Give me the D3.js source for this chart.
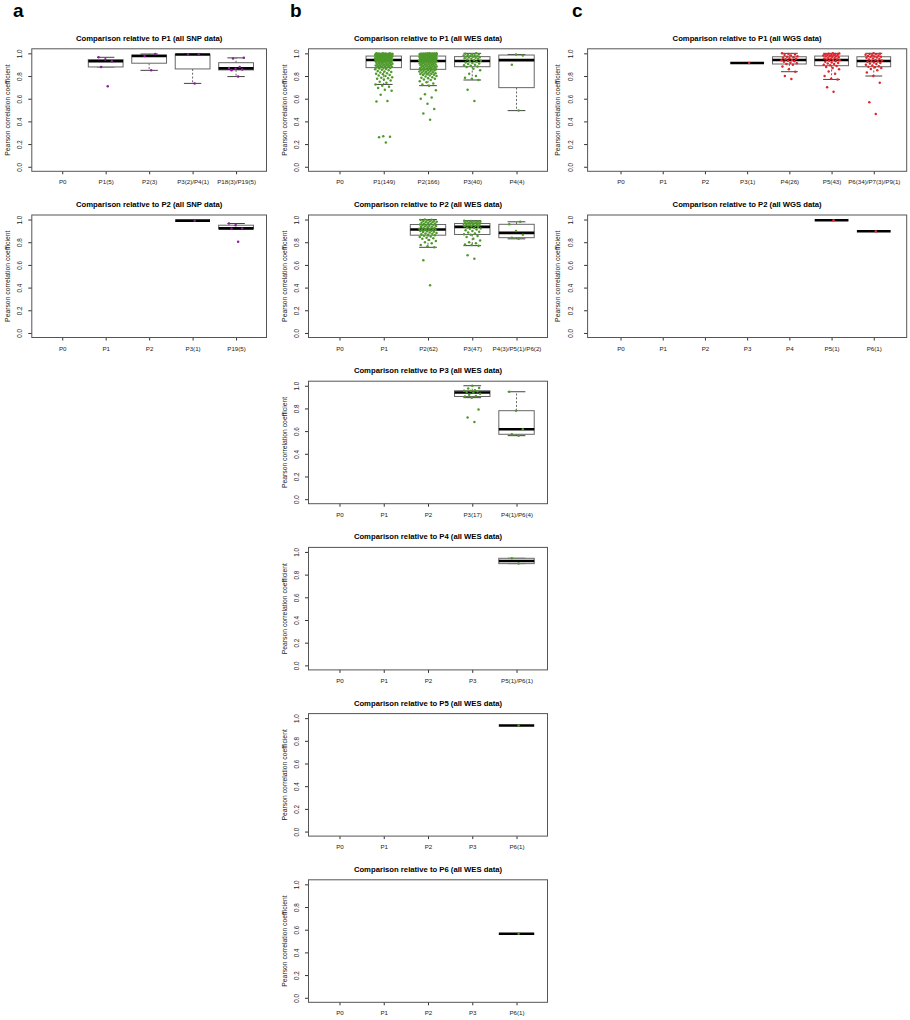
<!DOCTYPE html>
<html lang="en">
<head>
<meta charset="UTF-8">
<title>Pearson correlation comparisons</title>
<script src="https://d3js.org/d3.v7.min.js"></script>
<style>
  body { margin: 0; background: #fff; }
  svg { display: block; }
</style>
</head>
<body>
<div id="chart"></div>
<script>
// ---- values (one list of correlations per group) ----
const yTicks = [0, 0.2, 0.4, 0.6, 0.8, 1.0];

// a: SNP data
const snpP1Cats = ["P0", "P1(5)", "P2(3)", "P3(2)/P4(1)", "P18(3)/P19(5)"];
const snpP1Values = [
  [],
  [0.71, 0.88, 0.93, 0.945, 0.965],
  [0.85, 0.976, 0.994],
  [0.735, 0.99, 0.994],
  [0.795, 0.85, 0.858, 0.865, 0.87, 0.88, 0.955, 0.96]
];
const snpP2Cats = ["P0", "P1", "P2", "P3(1)", "P19(5)"];
const snpP2Values = [[], [], [], [0.99], [0.805, 0.918, 0.922, 0.95, 0.965]];

// b: WES data
const wesP1Cats = ["P0", "P1(149)", "P2(166)", "P3(40)", "P4(4)"];
const wesP1Values = [
  [],
  [0.215, 0.26, 0.265, 0.268, 0.575, 0.58, 0.635, 0.67, 0.68, 0.695, 0.705, 0.715,
   0.726, 0.74, 0.75, 0.76, 0.77, 0.775, 0.78, 0.785, 0.79, 0.80, 0.805, 0.81, 0.815,
   0.82, 0.825, 0.83, 0.835, 0.84, 0.845, 0.85, 0.855, 0.86, 0.863, 0.866, 0.87, 0.874,
   0.876, 0.878, 0.88, 0.882, 0.884, 0.886, 0.888, 0.89, 0.892, 0.894, 0.896, 0.898,
   0.90, 0.902, 0.904, 0.906, 0.908, 0.91, 0.912, 0.914, 0.916, 0.918, 0.92, 0.922,
   0.924, 0.926, 0.928, 0.93, 0.931, 0.932, 0.933, 0.934, 0.935, 0.936, 0.938, 0.94, 0.941,
   0.942, 0.943, 0.944, 0.945, 0.946, 0.947, 0.948, 0.949, 0.95, 0.951, 0.952, 0.953,
   0.954, 0.955, 0.956, 0.957, 0.958, 0.959, 0.96, 0.961, 0.962, 0.963, 0.964, 0.965,
   0.966, 0.967, 0.968, 0.969, 0.97, 0.971, 0.972, 0.973, 0.974, 0.975, 0.975, 0.976, 0.976,
   0.977, 0.978, 0.979, 0.98, 0.981, 0.982, 0.983, 0.984, 0.985, 0.986, 0.987, 0.988,
   0.989, 0.99, 0.991, 0.992, 0.993, 0.994, 0.995, 0.996, 0.997, 0.998, 0.999,
   0.98, 0.982, 0.985, 0.987, 0.99, 0.99, 0.992, 0.993, 0.995, 0.996, 0.997, 0.998, 0.999, 1.0],
  [0.415, 0.47, 0.51, 0.555, 0.60, 0.61, 0.64, 0.675,
   0.715, 0.725, 0.735, 0.745, 0.755, 0.765, 0.77, 0.775, 0.78, 0.785, 0.79, 0.795, 0.80,
   0.805, 0.81, 0.812, 0.815, 0.818, 0.82, 0.822, 0.825, 0.828, 0.83, 0.833, 0.836, 0.839,
   0.842, 0.845, 0.848, 0.85, 0.852, 0.855, 0.857, 0.859,
   0.861, 0.863, 0.865, 0.867, 0.869, 0.871, 0.873, 0.875, 0.877, 0.879, 0.881, 0.883,
   0.885, 0.887, 0.889, 0.891, 0.893, 0.895, 0.897, 0.899, 0.901, 0.903, 0.905, 0.907,
   0.909, 0.911, 0.913, 0.915, 0.917, 0.919, 0.921, 0.923, 0.925, 0.927, 0.929,
   0.93, 0.931, 0.931, 0.932, 0.932, 0.932, 0.932,
   0.933, 0.934, 0.935, 0.936, 0.937, 0.938, 0.939, 0.94, 0.941, 0.942, 0.943, 0.944,
   0.945, 0.946, 0.947, 0.948, 0.949, 0.95, 0.951, 0.952, 0.953, 0.954, 0.955, 0.956,
   0.957, 0.958, 0.959, 0.96, 0.961, 0.962, 0.963, 0.964, 0.965, 0.966, 0.967, 0.968,
   0.969, 0.97, 0.971, 0.974, 0.976,
   0.977, 0.978, 0.979, 0.98, 0.981, 0.982, 0.983, 0.984, 0.985, 0.986, 0.987, 0.988,
   0.989, 0.99, 0.991, 0.992, 0.993, 0.994, 0.995, 0.996, 0.997, 0.998, 0.999,
   0.98, 0.981, 0.983, 0.985, 0.986, 0.988, 0.99, 0.99, 0.991, 0.993, 0.994, 0.995,
   0.996, 0.997, 0.998, 0.999, 1.0, 1.0],
  [0.58, 0.68, 0.765, 0.775, 0.785, 0.80, 0.82, 0.85, 0.865, 0.88, 0.884, 0.89, 0.895,
   0.90, 0.905, 0.91, 0.915, 0.92, 0.925, 0.93, 0.934, 0.94, 0.945, 0.95, 0.953, 0.956,
   0.96, 0.963, 0.966, 0.97, 0.972, 0.975, 0.978, 0.98, 0.983, 0.986, 0.99, 0.993, 0.996, 1.0],
  [0.495, 0.90, 0.98, 0.99]
];
const wesP2Cats = ["P0", "P1", "P2(62)", "P3(47)", "P4(3)/P5(1)/P6(2)"];
const wesP2Values = [
  [], [],
  [0.42, 0.64, 0.755, 0.765, 0.775, 0.79, 0.80, 0.81, 0.82, 0.83, 0.835, 0.84, 0.845, 0.85,
   0.856, 0.862, 0.866, 0.87, 0.874, 0.878, 0.882, 0.886, 0.89, 0.893, 0.896, 0.899, 0.902,
   0.905, 0.907, 0.909, 0.911, 0.913, 0.916, 0.919, 0.922, 0.925, 0.928, 0.931, 0.934,
   0.937, 0.94, 0.943, 0.946, 0.949, 0.952, 0.954, 0.956, 0.96, 0.963, 0.966, 0.969, 0.972,
   0.975, 0.978, 0.981, 0.984, 0.987, 0.99, 0.993, 0.995, 0.998, 1.0],
  [0.655, 0.685, 0.77, 0.775, 0.78, 0.79, 0.80, 0.815, 0.83, 0.845, 0.855, 0.866, 0.87,
   0.878, 0.886, 0.893, 0.90, 0.906, 0.912, 0.918, 0.922, 0.926, 0.93, 0.935, 0.938, 0.941,
   0.944, 0.947, 0.95, 0.952, 0.955, 0.958, 0.96, 0.962, 0.964, 0.966, 0.968, 0.97, 0.972,
   0.975, 0.977, 0.98, 0.982, 0.984, 0.986, 0.988, 0.99],
  [0.83, 0.84, 0.865, 0.90, 0.958, 0.98]
];
const wesP3Cats = ["P0", "P1", "P2", "P3(17)", "P4(1)/P6(4)"];
const wesP3Values = [
  [], [], [],
  [0.68, 0.72, 0.79, 0.895, 0.905, 0.91, 0.92, 0.93, 0.94, 0.945, 0.95, 0.953, 0.956,
   0.96, 0.975, 0.98, 1.0],
  [0.56, 0.572, 0.616, 0.78, 0.947]
];
const wesP4Cats = ["P0", "P1", "P2", "P3", "P5(1)/P6(1)"];
const wesP4Values = [[], [], [], [], [0.897, 0.944]];
const wesP5Cats = ["P0", "P1", "P2", "P3", "P6(1)"];
const wesP5Values = [[], [], [], [], [0.935]];
const wesP6Cats = ["P0", "P1", "P2", "P3", "P6(1)"];
const wesP6Values = [[], [], [], [], [0.565]];

// c: WGS data
const wgsP1Cats = ["P0", "P1", "P2", "P3(1)", "P4(26)", "P5(43)", "P6(34)/P7(3)/P9(1)"];
const wgsP1Values = [
  [], [], [],
  [0.915],
  [0.774, 0.80, 0.838, 0.86, 0.885, 0.90, 0.906, 0.912, 0.918, 0.925, 0.93, 0.935, 0.94,
   0.942, 0.948, 0.952, 0.957, 0.962, 0.966, 0.97, 0.975, 0.98, 0.985, 0.99, 0.995, 1.0],
  [0.662, 0.70, 0.77, 0.775, 0.80, 0.82, 0.84, 0.86, 0.87, 0.88, 0.888, 0.894, 0.90, 0.905,
   0.91, 0.915, 0.92, 0.925, 0.93, 0.935, 0.938, 0.941, 0.945, 0.948, 0.952, 0.955, 0.958,
   0.962, 0.965, 0.968, 0.972, 0.975, 0.977, 0.98, 0.983, 0.985, 0.988, 0.99, 0.993, 0.995,
   0.997, 0.999, 1.0],
  [0.465, 0.568, 0.74, 0.80, 0.83, 0.85, 0.862, 0.87, 0.877, 0.882, 0.887, 0.893, 0.90,
   0.905, 0.91, 0.915, 0.92, 0.926, 0.931, 0.933, 0.937, 0.941, 0.945, 0.95, 0.955, 0.96,
   0.963, 0.967, 0.97, 0.973, 0.976, 0.98, 0.984, 0.988, 0.991, 0.994, 0.997, 1.0]
];
const wgsP2Cats = ["P0", "P1", "P2", "P3", "P4", "P5(1)", "P6(1)"];
const wgsP2Values = [[], [], [], [], [], [0.994], [0.897]];

// ---- layout ----
const FONT = '"Liberation Sans", Arial, Helvetica, sans-serif';
const width = 910, height = 1020;
const columns = {
  a: { left: 31.8, right: 266.5, color: "#8e1c9e", letterX: 13, tickGap: 9.5, labelGap: 22 },
  b: { left: 308.5, right: 547.5, color: "#4e9a2b", letterX: 290, tickGap: 9.5, labelGap: 22 },
  c: { left: 587.6, right: 906.7, color: "#e3242b", letterX: 572, tickGap: 15, labelGap: 28 }
};
const rowTop = r => 48.8 + 166.2 * r;
const plotH = 122.5;

const panels = [
  { col: "a", row: 0, title: "Comparison relative to P1 (all SNP data)", cats: snpP1Cats, values: snpP1Values },
  { col: "a", row: 1, title: "Comparison relative to P2 (all SNP data)", cats: snpP2Cats, values: snpP2Values },
  { col: "b", row: 0, title: "Comparison relative to P1 (all WES data)", cats: wesP1Cats, values: wesP1Values },
  { col: "b", row: 1, title: "Comparison relative to P2 (all WES data)", cats: wesP2Cats, values: wesP2Values },
  { col: "b", row: 2, title: "Comparison relative to P3 (all WES data)", cats: wesP3Cats, values: wesP3Values },
  { col: "b", row: 3, title: "Comparison relative to P4 (all WES data)", cats: wesP4Cats, values: wesP4Values },
  { col: "b", row: 4, title: "Comparison relative to P5 (all WES data)", cats: wesP5Cats, values: wesP5Values },
  { col: "b", row: 5, title: "Comparison relative to P6 (all WES data)", cats: wesP6Cats, values: wesP6Values },
  { col: "c", row: 0, title: "Comparison relative to P1 (all WGS data)", cats: wgsP1Cats, values: wgsP1Values },
  { col: "c", row: 1, title: "Comparison relative to P2 (all WGS data)", cats: wgsP2Cats, values: wgsP2Values }
];

const svg = d3.select("#chart").append("svg")
  .attr("width", width)
  .attr("height", height)
  .style("font-family", FONT);

// Tukey five-number summary, same hinges as R's boxplot
function fivenum(vals) {
  const s = vals.slice().sort((a, b) => a - b);
  const n = s.length;
  const n4 = Math.floor((n + 3) / 2) / 2;
  const d = [1, n4, (n + 1) / 2, n + 1 - n4, n];
  return d.map(di => 0.5 * (s[Math.floor(di) - 1] + s[Math.ceil(di) - 1]));
}

function boxStats(vals) {
  const s = vals.slice().sort((a, b) => a - b);
  const f = fivenum(s);
  const iqr = f[3] - f[1];
  const lo = d3.min(s.filter(v => v >= f[1] - 1.5 * iqr));
  const hi = d3.max(s.filter(v => v <= f[3] + 1.5 * iqr));
  return { lo, q1: f[1], med: f[2], q3: f[3], hi };
}

function drawPanel(p) {
  const col = columns[p.col];
  const n = p.cats.length;
  const top = rowTop(p.row), bottom = top + plotH;
  const x = d3.scaleLinear()
    .domain([0.5 - 0.04 * n, n + 0.5 + 0.04 * n])
    .range([col.left, col.right]);
  const y = d3.scaleLinear().domain([-0.04, 1.04]).range([bottom, top]);
  const step = x(2) - x(1);
  const boxW = 0.8 * step;

  const g = svg.append("g");

  // y axis, labels turned like R's default las = 0
  const yAxis = g.append("g")
    .attr("transform", `translate(${col.left},0)`)
    .call(d3.axisLeft(y).tickValues(yTicks).tickFormat(d3.format(".1f")).tickSize(3.5));
  yAxis.select(".domain").remove();
  yAxis.attr("font-size", null).attr("font-family", null).style("color", "#333");
  yAxis.selectAll(".tick text")
    .attr("x", 0).attr("dy", 0)
    .attr("text-anchor", "middle")
    .attr("transform", `translate(${-col.tickGap},0) rotate(-90)`)
    .style("font-size", "6.3px")
    .style("fill", "#222");

  // x axis
  const xAxis = g.append("g")
    .attr("transform", `translate(0,${bottom})`)
    .call(d3.axisBottom(x).tickValues(d3.range(1, n + 1)).tickFormat(i => p.cats[i - 1]).tickSize(3));
  xAxis.select(".domain").remove();
  xAxis.attr("font-size", null).attr("font-family", null).style("color", "#333");
  xAxis.selectAll(".tick text")
    .attr("y", 13).attr("dy", 0)
    .style("font-size", "6.2px")
    .style("fill", "#222");

  // frame
  g.append("rect")
    .attr("x", col.left).attr("y", top)
    .attr("width", col.right - col.left).attr("height", plotH)
    .attr("fill", "none")
    .attr("stroke", "#555")
    .attr("stroke-width", 1);

  // boxes
  p.values.forEach((vals, i) => {
    if (!vals.length) return;
    const cx = x(i + 1);
    const st = boxStats(vals);
    const bg = g.append("g");
    bg.append("line")
      .attr("x1", cx).attr("x2", cx).attr("y1", y(st.q3)).attr("y2", y(st.hi))
      .attr("stroke", "#666").attr("stroke-dasharray", "2,1.8");
    bg.append("line")
      .attr("x1", cx).attr("x2", cx).attr("y1", y(st.q1)).attr("y2", y(st.lo))
      .attr("stroke", "#666").attr("stroke-dasharray", "2,1.8");
    [st.hi, st.lo].forEach(v => {
      bg.append("line")
        .attr("x1", cx - boxW / 4).attr("x2", cx + boxW / 4)
        .attr("y1", y(v)).attr("y2", y(v))
        .attr("stroke", "#444");
    });
    bg.append("rect")
      .attr("x", cx - boxW / 2).attr("y", y(st.q3))
      .attr("width", boxW).attr("height", Math.max(0, y(st.q1) - y(st.q3)))
      .attr("fill", "#fff")
      .attr("stroke", "#666")
      .attr("stroke-width", 1);
    bg.append("line")
      .attr("x1", cx - boxW / 2).attr("x2", cx + boxW / 2)
      .attr("y1", y(st.med)).attr("y2", y(st.med))
      .attr("stroke", "#000").attr("stroke-width", 2.6);
  });

  // jittered points on top
  p.values.forEach((vals, i) => {
    const cx = x(i + 1);
    g.append("g").selectAll("circle")
      .data(vals)
      .join("circle")
      .attr("cx", (d, k) => cx + (((k + 1) * 0.6180339887) % 1 - 0.5) * 0.4 * step)
      .attr("cy", d => y(d))
      .attr("r", 1.25)
      .attr("fill", col.color);
  });

  // title
  g.append("text")
    .attr("x", (col.left + col.right) / 2)
    .attr("y", top - 8)
    .attr("text-anchor", "middle")
    .style("font-size", "7.7px")
    .style("font-weight", "bold")
    .text(p.title);

  // y label
  g.append("text")
    .attr("transform", `translate(${col.left - col.labelGap},${(top + bottom) / 2}) rotate(-90)`)
    .attr("text-anchor", "middle")
    .style("font-size", "6.8px")
    .style("fill", "#222")
    .text("Pearson correlation coefficient");
}

panels.forEach(drawPanel);

// panel letters
Object.entries(columns).forEach(([key, col]) => {
  svg.append("text")
    .attr("x", col.letterX)
    .attr("y", 17)
    .style("font-size", "19px")
    .style("font-weight", "bold")
    .text(key);
});
</script>
</body>
</html>
